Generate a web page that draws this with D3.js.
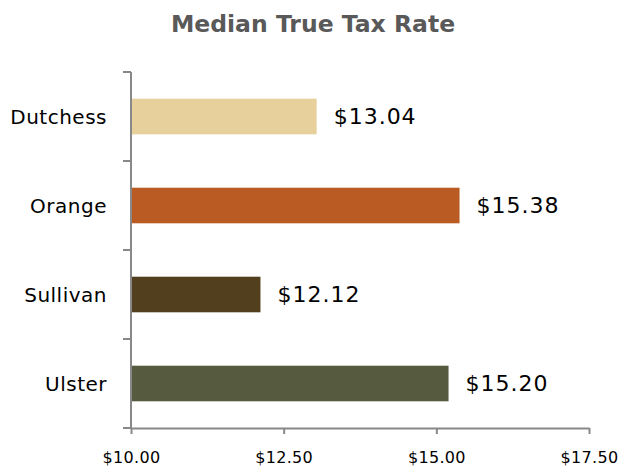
<!DOCTYPE html>
<html>
<head>
<meta charset="utf-8">
<script src="https://cdn.jsdelivr.net/npm/d3@7"></script>
<style>
  body { margin: 0; background: #fff; }
  svg { display: block; font-family: "DejaVu Sans", "Open Sans", sans-serif; }
</style>
</head>
<body>
<div id="chart"></div>
<script>
// Chart data
const counties = ["Dutchess", "Orange", "Sullivan", "Ulster"];
const rates = [13.04, 15.38, 12.12, 15.20];
const barColors = ["#E8D09C", "#BA5B24", "#523F1E", "#565A3E"];
const xTicks = [10, 12.5, 15, 17.5];

const width = 619;
const height = 469;
const margin = { top: 72, right: 30, bottom: 41, left: 131 };

const svg = d3.select("#chart").append("svg")
  .attr("width", width)
  .attr("height", height);

// Title
svg.append("text")
  .attr("x", 313)
  .attr("y", 32)
  .attr("text-anchor", "middle")
  .style("font-size", "23.5px")
  .style("font-weight", "bold")
  .style("fill", "#595959")
  .text("Median True Tax Rate");

// Scales
const x = d3.scaleLinear()
  .domain([10, 17.5])
  .range([margin.left, width - margin.right]);

const y = d3.scaleBand()
  .domain(counties)
  .range([margin.top, height - margin.bottom])
  .paddingInner(0.6)
  .paddingOuter(0.3);

const rows = counties.map((c, i) => ({ county: c, value: rates[i], color: barColors[i] }));

// Bars
svg.selectAll("rect.bar")
  .data(rows)
  .enter()
  .append("rect")
  .attr("class", "bar")
  .attr("x", x(10))
  .attr("y", d => y(d.county))
  .attr("width", d => x(d.value) - x(10))
  .attr("height", y.bandwidth())
  .attr("fill", d => d.color);

// Value labels
svg.selectAll("text.value-label")
  .data(rows)
  .enter()
  .append("text")
  .attr("class", "value-label")
  .attr("x", d => x(d.value) + 17)
  .attr("y", d => y(d.county) + y.bandwidth() / 2)
  .attr("dy", "0.36em")
  .style("font-size", "22px")
  .style("letter-spacing", "1px")
  .style("fill", "#000")
  .text(d => "$" + d.value.toFixed(2));

// X axis
const xAxis = svg.append("g")
  .attr("transform", `translate(0,${height - margin.bottom})`)
  .call(d3.axisBottom(x).tickValues(xTicks).tickSize(6).tickSizeOuter(0)
    .tickFormat(d => "$" + d.toFixed(2)));

xAxis.select(".domain").attr("stroke", "#888").attr("stroke-width", 2);
xAxis.selectAll(".tick line").attr("stroke", "#888").attr("stroke-width", 2);
xAxis.selectAll(".tick text")
  .attr("dy", 0)
  .attr("y", 35)
  .style("font-family", "DejaVu Sans, sans-serif")
  .style("font-size", "16px")
  .style("letter-spacing", "0.3px")
  .style("fill", "#000");

// Y axis: ticks sit between the categories
const yEdges = d3.range(counties.length + 1)
  .map(i => margin.top + i * (height - margin.bottom - margin.top) / counties.length);
const yAxis = svg.append("g");
yAxis.append("line")
  .attr("x1", margin.left).attr("x2", margin.left)
  .attr("y1", margin.top).attr("y2", height - margin.bottom)
  .attr("stroke", "#888").attr("stroke-width", 2);
yAxis.selectAll("line.ytick")
  .data(yEdges)
  .enter()
  .append("line")
  .attr("class", "ytick")
  .attr("x1", margin.left - 8).attr("x2", margin.left)
  .attr("y1", d => d).attr("y2", d => d)
  .attr("stroke", "#888").attr("stroke-width", 2);

// Category labels
svg.selectAll("text.cat-label")
  .data(counties)
  .enter()
  .append("text")
  .attr("class", "cat-label")
  .attr("x", 107)
  .attr("y", d => y(d) + y.bandwidth() / 2)
  .attr("dy", "0.36em")
  .attr("text-anchor", "end")
  .style("font-size", "20px")
  .style("letter-spacing", "0.5px")
  .style("fill", "#000")
  .text(d => d);
</script>
</body>
</html>
